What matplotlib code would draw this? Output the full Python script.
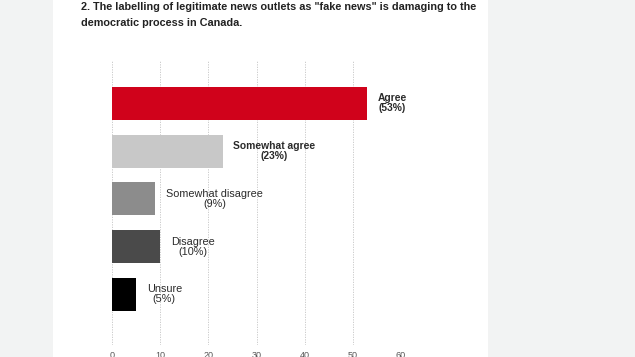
import matplotlib
matplotlib.use("Agg")
import matplotlib.pyplot as plt
from matplotlib.patches import Rectangle

# survey answers
categories = ["Agree", "Somewhat agree", "Somewhat disagree", "Disagree", "Unsure"]
values = [53, 23, 9, 10, 5]
bar_colors = ["#d0021b", "#c8c8c8", "#8c8c8c", "#4a4a4a", "#000000"]
bold_label = [True, True, False, False, False]
xticks = [0, 10, 20, 30, 40, 50, 60]

title = ('2. The labelling of legitimate news outlets as "fake news" is damaging to the\n'
         'democratic process in Canada.')

plt.rcParams["font.family"] = ["Liberation Sans", "DejaVu Sans"]

W, H = 635, 357
fig = plt.figure(figsize=(W / 100, H / 100), dpi=100)
fig.patch.set_facecolor("#f2f3f3")
# white page panel behind the chart
fig.patches.append(Rectangle((53 / W, 0), (488 - 53) / W, 1, transform=fig.transFigure,
                             facecolor="white", edgecolor="none", zorder=-10))

fig.text(81 / W, 1 - 2 / H, title, ha="left", va="top", fontsize=7.85,
         fontweight="bold", color="#222222", linespacing=1.75)

ax = fig.add_axes([112 / W, 1 - 345 / H, (401 - 112) / W, (345 - 60) / H])
ax.set_facecolor("none")
ypos = list(range(len(categories)))
ax.barh(ypos, values, height=0.69, color=bar_colors, zorder=2)
ax.set_xlim(0, 60)
ax.set_ylim(len(categories) - 1 + 1.06, -0.91)

for y, v, name, b in zip(ypos, values, categories, bold_label):
    ax.text(v + 2.2, y, f"{name}\n({v}%)", ha="left", va="center", multialignment="center",
            fontsize=7.4 if b else 7.8, fontweight="bold" if b else "normal", color="#2a2a2a",
            linespacing=1.0, zorder=3)

ax.set_xticks(xticks)
ax.set_xticklabels([str(t) for t in xticks])
ax.set_yticks([])
ax.tick_params(axis="x", length=0, pad=4, labelsize=6.5, labelcolor="#555555")
ax.grid(axis="x", color="#c4c4c4", linestyle=(0, (1.5, 1.5)), linewidth=0.6, zorder=1)
for s in ax.spines.values():
    s.set_visible(False)

fig.savefig("out.png", dpi=100, facecolor=fig.get_facecolor())
